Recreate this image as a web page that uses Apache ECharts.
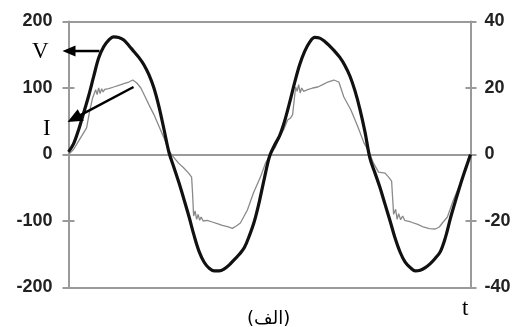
<!DOCTYPE html>
<html>
<head>
<meta charset="utf-8">
<script src="https://cdn.jsdelivr.net/npm/echarts@6/dist/echarts.min.js"></script>
<style>
html,body{margin:0;padding:0;background:#fff;}
#chart{width:521px;height:327px;}
</style>
</head>
<body>
<div id="chart"></div>
<script>
// ---- Data (time in ms) ----
const voltTime = [0,0.5,1,1.5,2,2.5,3,3.5,4,4.5,5,5.5,6,6.5,7,7.5,8,8.5,9,9.5,10,
  10.5,11,11.5,12,12.5,13,13.5,14,14.5,15,15.5,16,16.5,17,17.5,18,18.5,19,19.5,20,
  20.5,21,21.5,22,22.5,23,23.5,24,24.5,25,25.5,26,26.5,27,27.5,28,28.5,29,29.5,30,
  30.5,31,31.5,32,32.5,33,33.5,34,34.5,35,35.5,36,36.5,37,37.5,38,38.5,39,39.5,40];
const voltValue = [4,16,37,62,88,117,145,162,172,177,176,172,164,155,146,135,120,100,72,38,3,
  -20,-43,-68,-94,-122,-146,-162,-171,-175,-175,-172,-166,-158,-150,-140,-122,-100,-70,-35,-3,
  14,28,50,78,108,135,155,169,176,175,170,163,155,146,134,118,96,68,34,-6,
  -28,-50,-75,-100,-126,-147,-162,-170,-175,-174,-170,-164,-156,-146,-125,-96,-70,-45,-22,0];

const curTime = [0,0.5,1,1.5,1.8,2.1,2.4,2.7,2.85,3.0,3.15,3.3,3.45,3.6,4,4.5,5,5.5,6,6.4,6.8,7.2,7.6,8,8.5,9,9.5,10,
  10.45,10.95,11.45,11.95,12.25,12.35,12.45,12.6,12.75,12.9,13.05,13.2,13.4,13.8,14.3,14.8,15.3,15.9,16.3,16.7,17.1,17.8,18.4,19.1,19.6,20.1,
  20.6,21.1,21.4,21.8,22.1,22.3,22.6,22.75,22.9,23.05,23.2,23.4,23.8,24.3,24.8,25.3,25.8,26.4,26.9,27.4,28.1,28.8,29.4,29.8,30.0,
  30.35,30.85,31.5,31.85,32.15,32.25,32.35,32.55,32.7,32.85,33.05,33.25,33.45,34.05,34.75,35.3,35.9,36.5,36.9,37.2,37.7,38.3,39.0,39.5,40];
const curValue = [0,1.5,4,6.5,8,13,17,19.5,18,20,18.3,19.8,18.8,19.6,19.8,20.3,20.8,21.3,21.8,22.4,21.5,20,17.5,15,12,8.5,5,1,
  -0.8,-2.6,-4,-5.6,-6.8,-12,-18.5,-17,-19.5,-18,-19.8,-18.8,-20,-19.8,-20.3,-20.8,-21.3,-21.8,-22.2,-21.5,-20.6,-16.7,-11.6,-6.8,-2.6,0,
  2.3,5.9,7.4,10.4,11,12,20.3,19,21,18.5,20,19,19.5,20,20.3,21,21.8,22.4,21.8,17.3,13.4,8.3,3.5,1.4,0,
  -2.6,-5.3,-5.6,-6.8,-8,-13,-18,-16.5,-19.5,-17.8,-19.6,-18.5,-19.8,-20.3,-21,-21.8,-22.3,-22.4,-21.8,-20.6,-18.8,-13.7,-8.6,-4.7,0];

const leftTicks = [-200,-100,0,100,200];
const rightTicks = [-40,-20,0,20,40];

// Annotation anchors (data coords on left axis): [tail, tip]
const vArrow = [[3.08,155.6],[-0.6,155.6]];
const iArrow = [[6.47,101.5],[-0.1,48.9]];

const GRAY = '#9a9a9a';
const chart = echarts.init(document.getElementById('chart'), null, {renderer:'canvas'});

const labelStyle = {color:'#222', fontSize:18, fontWeight:'bold', fontFamily:'Liberation Sans, Arial, sans-serif'};

const option = {
  animation:false,
  backgroundColor:'#fff',
  grid:{left:68.5, right:50.5, top:21.5, bottom:39.5, containLabel:false},
  xAxis:{type:'value', min:0, max:40, show:true,
    axisLine:{show:false}, axisTick:{show:false}, axisLabel:{show:false}, splitLine:{show:false}},
  yAxis:[
    {type:'value', position:'left', min:leftTicks[0], max:leftTicks[4], interval:100,
      axisLine:{show:true, lineStyle:{color:GRAY, width:2}},
      axisTick:{show:true, length:6, lineStyle:{color:GRAY, width:2}},
      axisLabel:Object.assign({margin:16}, labelStyle),
      splitLine:{show:false}},
    {type:'value', position:'left', min:leftTicks[0], max:leftTicks[4], interval:200,
      axisLine:{show:false}, axisTick:{show:false}, axisLabel:{show:false},
      splitLine:{show:true, lineStyle:{color:GRAY, width:2}}},
    {type:'value', position:'left', min:leftTicks[0], max:leftTicks[4], interval:100,
      axisLine:{show:false}, axisTick:{show:true, inside:true, length:6, lineStyle:{color:GRAY, width:2}},
      axisLabel:{show:false}, splitLine:{show:false}},
    {type:'value', position:'right', min:rightTicks[0], max:rightTicks[4], interval:20,
      axisLine:{show:true, lineStyle:{color:GRAY, width:2}},
      axisTick:{show:true, length:6, lineStyle:{color:GRAY, width:2}},
      axisLabel:Object.assign({margin:14}, labelStyle),
      splitLine:{show:false}},
    {type:'value', position:'right', min:rightTicks[0], max:rightTicks[4], interval:20,
      axisLine:{show:false}, axisTick:{show:true, inside:true, length:5, lineStyle:{color:GRAY, width:2}},
      axisLabel:{show:false}, splitLine:{show:false}}
  ],
  series:[
    {name:'I', type:'line', yAxisIndex:3, showSymbol:false, smooth:false,
      lineStyle:{color:'#8a8a8a', width:1.3},
      data:curTime.map((t,i)=>[t,curValue[i]])},
    {name:'V', type:'line', yAxisIndex:0, showSymbol:false, smooth:0.35,
      lineStyle:{color:'#111', width:3.2},
      data:voltTime.map((t,i)=>[t,voltValue[i]])}
  ]
};
chart.setOption(option);

function px(p){ return chart.convertToPixel({xAxisIndex:0, yAxisIndex:0}, p); }
function arrow(a, headLen, headHalf){
  const t = px(a[0]), h = px(a[1]);
  const dx = h[0]-t[0], dy = h[1]-t[1], L = Math.hypot(dx,dy);
  const ux = dx/L, uy = dy/L;
  const bx = h[0]-ux*headLen, by = h[1]-uy*headLen;
  return [
    {type:'line', shape:{x1:t[0], y1:t[1], x2:bx+ux*2, y2:by+uy*2}, style:{stroke:'#000', lineWidth:2.5}, z:100},
    {type:'polygon', shape:{points:[[h[0],h[1]],[bx-uy*headHalf, by+ux*headHalf],[bx+uy*headHalf, by-ux*headHalf]]},
      style:{fill:'#000'}, z:100}
  ];
}
const serif = 'Liberation Serif, Times New Roman, serif';
const graphics = [].concat(
  arrow(vArrow, 13, 5.5),
  arrow(iArrow, 15, 6.5),
  [
    {type:'text', left:32, top:40, style:{text:'V', font:'23px '+serif, fill:'#000'}, z:100},
    {type:'text', left:43, top:117, style:{text:'I', font:'23px '+serif, fill:'#000'}, z:100},
    {type:'text', left:462, top:297, style:{text:'t', font:'23px '+serif, fill:'#000'}, z:100},
    {type:'text', left:247, top:310, style:{text:'(الف)', font:'18px DejaVu Sans, sans-serif', fill:'#000'}, z:100}
  ]
);
chart.setOption({graphic:graphics});
</script>
</body>
</html>
